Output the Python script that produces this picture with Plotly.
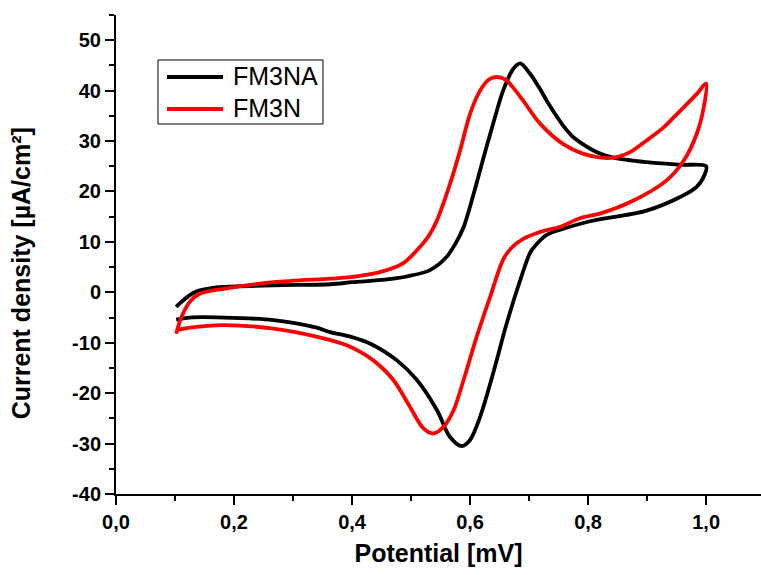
import plotly.graph_objects as go

# Cyclic voltammograms: forward (anodic) branch followed by the reverse (cathodic) branch
fm3na_potential = [
    0.102, 0.110, 0.120, 0.137, 0.160, 0.182, 0.267, 0.363, 0.400, 0.476, 0.532, 0.560, 0.575,
    0.589, 0.606, 0.623, 0.639, 0.656, 0.673, 0.685, 0.702, 0.716, 0.730, 0.745, 0.758, 0.772,
    0.786, 0.815, 0.843, 0.899, 0.956, 1.000,
    0.998, 0.984, 0.956, 0.899, 0.800, 0.758, 0.730, 0.713, 0.702, 0.685, 0.662,
    0.639, 0.617, 0.600, 0.586, 0.566, 0.544, 0.510, 0.476, 0.431, 0.397, 0.363,
    0.340, 0.267, 0.182, 0.125, 0.102,
]
fm3na_current = [
    -2.9, -2.0, -1.0, 0.2, 0.8, 1.05, 1.4, 1.6, 2.0, 2.8, 4.4, 7.0, 9.6,
    12.9, 19.5, 26.8, 33.4, 40.0, 44.3, 45.4, 43.3, 40.8, 38.0, 35.2, 33.0, 31.1,
    29.8, 27.8, 26.7, 25.8, 25.3, 25.0,
    23.5, 20.9, 18.9, 16.2, 14.0, 12.6, 11.4, 9.6, 7.9, 2.4, -6.2,
    -16.1, -24.7, -29.3, -30.5, -28.7, -23.4, -17.4, -13.5, -10.2, -8.8, -7.9,
    -7.0, -5.5, -5.0, -5.0, -5.4,
]

fm3n_potential = [
    0.102, 0.111, 0.125, 0.142, 0.182, 0.267, 0.363, 0.397, 0.447, 0.487, 0.515,
    0.530, 0.544, 0.566, 0.583, 0.600, 0.617, 0.632, 0.645, 0.660, 0.675, 0.690,
    0.719, 0.758, 0.803, 0.843, 0.871, 0.899, 0.928, 0.956, 0.984, 1.000,
    0.996, 0.984, 0.962, 0.933, 0.877, 0.820, 0.786, 0.753, 0.720, 0.690, 0.670, 0.656,
    0.634, 0.611, 0.589, 0.572, 0.555, 0.538, 0.521, 0.498, 0.470, 0.436, 0.391,
    0.340, 0.267, 0.182, 0.125, 0.102,
]
fm3n_current = [
    -8.2, -4.9, -1.9, -0.3, 0.7, 2.0, 2.7, 3.0, 4.0, 5.8, 9.0,
    11.2, 14.3, 21.5, 28.1, 35.4, 40.0, 42.2, 42.7, 42.2, 40.3, 38.0,
    33.4, 29.4, 27.1, 26.7, 27.8, 30.1, 32.7, 36.0, 39.3, 41.4,
    36.7, 31.4, 26.1, 22.2, 18.2, 15.6, 14.7, 13.0, 12.0, 10.6, 8.8, 6.5,
    -0.9, -8.9, -17.4, -23.4, -26.7, -28.0, -27.0, -22.7, -17.4, -13.5, -10.5,
    -8.8, -7.2, -6.5, -7.0, -7.5,
]

series_names = ["FM3NA", "FM3N"]
series_colors = ["black", "#ff0000"]

x_ticks = [0.0, 0.2, 0.4, 0.6, 0.8, 1.0]
y_ticks = [-40, -30, -20, -10, 0, 10, 20, 30, 40, 50]

FONT = "Liberation Sans, Arial, sans-serif"

fig = go.Figure()
for xs, ys, name, color in zip(
    [fm3na_potential, fm3n_potential], [fm3na_current, fm3n_current],
    series_names, series_colors,
):
    fig.add_trace(go.Scatter(
        x=xs, y=ys, name=name, mode="lines", showlegend=False,
        line=dict(color=color, width=3.8, shape="spline", smoothing=0.9),
    ))

# framed legend in the upper-left corner of the plot area
leg_x0, leg_x1, leg_y0, leg_y1 = 0.0651, 0.3209, 0.7724, 0.9061
fig.add_shape(type="rect", xref="paper", yref="paper",
              x0=leg_x0, x1=leg_x1, y0=leg_y0, y1=leg_y1,
              line=dict(color="black", width=1), fillcolor="white", layer="above")
for i, (name, color) in enumerate(zip(series_names, series_colors)):
    yl = 0.8706 - i * 0.0668
    fig.add_shape(type="line", xref="paper", yref="paper",
                  x0=0.0791, x1=0.1659, y0=yl, y1=yl,
                  line=dict(color=color, width=3.8), layer="above")
    fig.add_annotation(xref="paper", yref="paper", x=0.1783, y=yl + 0.002,
                       xanchor="left", yanchor="middle", showarrow=False,
                       text=name, font=dict(family=FONT, size=25, color="black"))

# y-axis title
fig.add_annotation(xref="paper", yref="paper", x=-0.147, y=0.461,
                   xanchor="center", yanchor="middle", showarrow=False, textangle=-90,
                   text="<b>Current density [µA/cm²]</b>",
                   font=dict(family=FONT, size=25, color="black"))

axis_font = dict(family=FONT, size=20, color="black")

fig.update_layout(
    width=761, height=575,
    margin=dict(l=116, r=0, t=15, b=81),
    paper_bgcolor="white", plot_bgcolor="white",
    xaxis=dict(
        range=[0, 1.093], tickvals=x_ticks,
        ticktext=[f"<b>{v:.1f}</b>".replace(".", ",") for v in x_ticks],
        showgrid=False, zeroline=False,
        showline=True, linecolor="black", linewidth=2,
        ticks="outside", ticklen=9, tickwidth=2, tickcolor="black",
        minor=dict(ticks="outside", ticklen=5, tickwidth=2, tickcolor="black", dtick=0.1),
        tickfont=axis_font,
        title=dict(text="<b>Potential [mV]</b>", font=dict(family=FONT, size=25, color="black"),
                   standoff=12),
    ),
    yaxis=dict(
        range=[-40, 55], tickvals=y_ticks,
        ticktext=[f"<b>{v}</b>" for v in y_ticks],
        showgrid=False, zeroline=False,
        showline=True, linecolor="black", linewidth=2,
        ticks="outside", ticklen=9, tickwidth=2, tickcolor="black",
        minor=dict(ticks="outside", ticklen=5, tickwidth=2, tickcolor="black", dtick=5),
        tickfont=axis_font,
    ),
)

fig.write_html("out.html")
